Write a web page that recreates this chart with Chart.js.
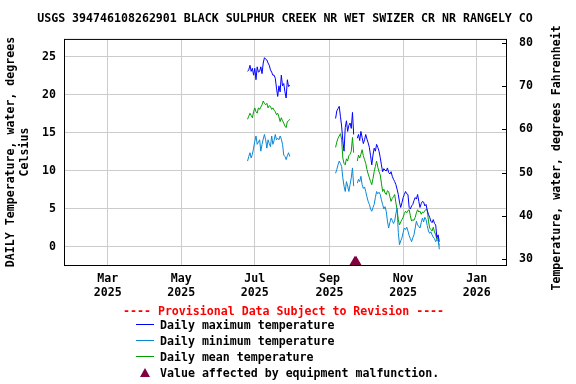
<!DOCTYPE html>
<html>
<head>
<meta charset="utf-8">
<title>USGS 394746108262901 water temperature</title>
<script src="https://cdn.jsdelivr.net/npm/chart.js@4.4.1/dist/chart.umd.min.js"></script>
<style>
  body { margin: 0; background: #fff; }
  #wrap { position: relative; width: 576px; height: 384px; overflow: hidden; }
  #chart { position: absolute; left: 0; top: 0; }
  .legend-text {
    position: absolute;
    font: bold 11.6px "DejaVu Sans Mono", monospace;
    line-height: 14px;
    white-space: pre;
    color: #000;
  }
  .legend-line { position: absolute; width: 18px; height: 1px; }
  .legend-tri {
    position: absolute; width: 0; height: 0;
    border-left: 5px solid transparent;
    border-right: 5px solid transparent;
    border-bottom: 9px solid #800040;
  }
</style>
</head>
<body>
<div id="wrap">
  <canvas id="chart" width="576" height="384"></canvas>
  <div class="legend-text" style="left:123px; top:304px; color:#ff0000;">---- Provisional Data Subject to Revision ----</div>
  <div id="legend"></div>
</div>
<script>
// === Data ===
const seg1Start = "2025-06-25";
const seg2Start = "2025-09-06";

// Jun 25 - Jul 30, 2025
const max1 = [23.1, 23.3, 23.9, 23.1, 23.5, 22.6, 23.5, 22.0, 23.7, 23.0, 23.1, 23.7,
  22.8, 24.2, 24.9, 24.7, 24.6, 24.2, 23.9, 23.3, 23.0, 22.6, 22.6, 22.2,
  20.9, 19.8, 21.2, 20.4, 22.6, 21.2, 21.5, 20.4, 19.6, 22.0, 21.1, 21.3];
const min1 = [11.3, 11.9, 12.4, 11.7, 12.2, 13.0, 13.9, 14.6, 13.5, 13.8, 14.1, 12.6,
  13.5, 14.2, 14.8, 14.1, 13.0, 14.1, 13.6, 13.2, 14.6, 13.5, 14.0, 14.8,
  14.1, 14.3, 14.1, 14.6, 14.2, 13.5, 12.1, 11.9, 11.5, 12.0, 12.4, 11.9];
const mean1 = [16.8, 17.2, 17.6, 17.3, 17.0, 17.8, 18.3, 17.8, 17.6, 18.3, 18.1, 18.4,
  18.7, 19.2, 18.9, 18.7, 18.9, 18.3, 18.6, 18.5, 18.1, 18.3, 18.0, 17.8,
  17.4, 17.6, 17.1, 16.5, 17.0, 16.6, 16.3, 15.9, 15.7, 16.5, 16.6, 16.8];

// Sep 6 - Dec 1, 2025 (null = no value, Sep 22-23)
const max2 = [16.9, 17.9, 18.2, 18.5, 17.2, 15.9, 14.0, 12.6, 15.7, 16.6, 15.2, 16.0,
  16.3, 15.6, 17.7, 14.8, null, null, 14.3, 14.8, 14.0, 15.2, 14.4, 13.6,
  14.1, 14.8, 14.2, 13.7, 13.1, 12.0, 10.8, 12.1, 13.0, 12.6, 13.5, 13.1,
  12.6, 11.8, 10.8, 9.9, 10.3, 10.1, 10.0, 10.4, 9.8, 9.6, 9.9, 9.3,
  8.9, 8.6, 8.2, 7.6, 6.9, 5.9, 5.2, 5.8, 6.5, 6.9, 7.3, 7.0,
  6.9, 5.2, 5.0, 5.4, 5.6, 6.1, 6.5, 6.3, 6.9, 6.0, 5.2, 5.7,
  6.0, 5.9, 5.4, 5.6, 4.8, 4.3, 3.9, 3.4, 3.2, 3.6, 3.1, 2.9,
  1.2, 1.6, 0.7];
const min2 = [9.7, 10.2, 10.8, 11.3, 11.0, 10.6, 9.1, 8.0, 7.3, 8.6, 8.0, 7.3,
  8.2, 9.1, 10.4, 8.0, null, null, 8.4, 8.9, 8.6, 9.3, 8.2, 7.7,
  7.9, 7.3, 6.6, 6.0, 5.6, 5.0, 4.7, 5.2, 5.6, 6.5, 7.3, 7.0,
  7.2, 6.9, 6.2, 5.6, 5.0, 5.3, 4.7, 3.4, 2.5, 3.2, 3.8, 3.5,
  3.1, 3.4, 4.4, 5.1, 1.9, 0.3, 0.8, 1.2, 1.9, 2.5, 2.3, 2.6,
  2.1, 1.5, 1.1, 0.7, 1.2, 1.6, 2.5, 3.4, 2.9, 2.7, 2.5, 3.2,
  3.8, 3.3, 3.9, 3.6, 2.8, 2.1, 1.8, 2.0, 1.6, 1.3, 1.1, 0.7,
  1.0, 1.2, -0.3];
const mean2 = [13.1, 13.8, 14.3, 14.6, 14.9, 14.2, 11.7, 11.0, 10.8, 11.6, 11.3, 12.0,
  12.2, 12.6, 14.4, 12.4, null, null, 11.3, 12.1, 11.7, 12.2, 12.8, 12.0,
  11.5, 11.0, 10.2, 9.6, 9.1, 8.6, 8.2, 9.0, 9.9, 10.6, 11.3, 10.5,
  9.9, 9.5, 8.4, 7.3, 7.6, 7.1, 6.9, 7.4, 7.3, 6.6, 6.0, 6.4,
  6.6, 6.9, 5.8, 4.9, 3.6, 2.9, 3.3, 3.6, 3.9, 4.4, 4.7, 4.5,
  4.8, 4.9, 4.1, 3.4, 3.6, 3.5, 3.9, 4.5, 4.9, 4.6, 4.7, 4.3,
  4.6, 4.5, 4.8, 4.9, 4.9, 3.4, 2.5, 2.3, 2.1, 2.6, 2.0, 1.6,
  1.0, 0.8, 0.2];

const malfunctionDays = ["2025-09-22", "2025-09-23"];
const malfunctionLevel = -2.0;

const xTickDates = ["2025-03-01", "2025-05-01", "2025-07-01", "2025-09-01", "2025-11-01", "2026-01-01"];
const xTickLabels = [["Mar", "2025"], ["May", "2025"], ["Jul", "2025"], ["Sep", "2025"], ["Nov", "2025"], ["Jan", "2026"]];
const yTicksC = [0, 5, 10, 15, 20, 25];
const yTicksF = [30, 40, 50, 60, 70, 80];

// === Styles ===
const FONT = "'DejaVu Sans Mono', monospace";
const FONT_SIZE = 11.6;
const MAX_COLOR = "#0000ff";
const MIN_COLOR = "#0a88d6";
const MEAN_COLOR = "#00a000";
const TRI_COLOR = "#800040";
const GRID = "#cccccc";
const TITLE = "USGS 394746108262901 BLACK SULPHUR CREEK NR WET SWIZER CR NR RANGELY CO";

// === Helpers ===
const DAY0 = Date.parse("2025-01-01T00:00:00Z");
const dayOf = (s) => (Date.parse(s + "T00:00:00Z") - DAY0) / 86400000;

function series(vals1, vals2) {
  const a = vals1.map((v, i) => ({ x: dayOf(seg1Start) + i, y: v }));
  const b = vals2.map((v, i) => ({ x: dayOf(seg2Start) + i, y: v }));
  return a.concat([{ x: dayOf(seg1Start) + vals1.length, y: null }], b);
}

const lineSet = (label, data, color) => ({
  label, data, borderColor: color, backgroundColor: color,
  borderWidth: 1, pointRadius: 0, tension: 0, spanGaps: false,
});

// === Frame, inner ticks, right axis title ===
const framePlugin = {
  id: "frame",
  afterDraw(chart) {
    const { ctx, chartArea: a, scales } = chart;
    ctx.save();
    ctx.strokeStyle = "#000";
    ctx.lineWidth = 1;
    ctx.strokeRect(a.left + 0.5, a.top + 0.5, a.right - a.left, a.bottom - a.top);

    ctx.beginPath();
    scales.y2.ticks.forEach((t) => {
      const y = Math.round(scales.y2.getPixelForValue(t.value)) + 0.5;
      ctx.moveTo(a.right - 4, y);
      ctx.lineTo(a.right + 1, y);
    });
    ctx.stroke();

    ctx.fillStyle = "#000";
    ctx.font = "bold " + FONT_SIZE + "px " + FONT;
    ctx.textAlign = "center";
    ctx.textBaseline = "middle";
    ctx.translate(557, (a.top + a.bottom) / 2 + 6);
    ctx.rotate(-Math.PI / 2);
    ctx.fillText("Temperature, water, degrees Fahrenheit", 0, 0);
    ctx.restore();
  },
};

// === Chart ===
const tickFont = { family: FONT, size: FONT_SIZE, weight: "bold", lineHeight: "14px" };

new Chart(document.getElementById("chart"), {
  type: "line",
  data: {
    datasets: [
      lineSet("Daily maximum temperature", series(max1, max2), MAX_COLOR),
      lineSet("Daily minimum temperature", series(min1, min2), MIN_COLOR),
      lineSet("Daily mean temperature", series(mean1, mean2), MEAN_COLOR),
      {
        label: "Value affected by equipment malfunction.",
        data: malfunctionDays.map((d) => ({ x: dayOf(d), y: malfunctionLevel })),
        showLine: false,
        pointStyle: "triangle",
        pointRadius: 6.5,
        pointBorderWidth: 0,
        backgroundColor: TRI_COLOR,
        borderColor: TRI_COLOR,
      },
    ],
  },
  options: {
    responsive: false,
    animation: false,
    devicePixelRatio: 1,
    layout: { padding: { left: 0, right: 6, top: 0, bottom: 84 } },
    plugins: {
      legend: { display: false },
      tooltip: { enabled: false },
      title: {
        display: true,
        text: TITLE,
        color: "#000",
        font: { family: FONT, size: FONT_SIZE, weight: "bold", lineHeight: 1.2 },
        padding: { top: 12, bottom: 13 },
      },
    },
    scales: {
      x: {
        type: "linear",
        min: 22.8,
        max: 389.3,
        afterBuildTicks: (s) => { s.ticks = xTickDates.map((d) => ({ value: dayOf(d) })); },
        afterFit: (s) => { s.height = 35; },
        grid: { color: GRID, drawTicks: false },
        border: { display: false },
        ticks: {
          color: "#000", font: tickFont, padding: 7,
          maxRotation: 0, autoSkip: false,
          callback: (v, i) => xTickLabels[i],
        },
      },
      y: {
        position: "left",
        min: -2.37,
        max: 27.37,
        afterBuildTicks: (s) => { s.ticks = yTicksC.map((v) => ({ value: v })); },
        afterFit: (s) => { s.width = 64; },
        grid: { color: GRID, drawTicks: false },
        border: { display: false },
        ticks: { color: "#000", font: tickFont, padding: 8 },
        title: {
          display: true,
          text: ["DAILY Temperature, water, degrees", "Celsius"],
          color: "#000",
          font: { family: FONT, size: FONT_SIZE, weight: "bold", lineHeight: "14px" },
          padding: { top: 4, bottom: 0 },
        },
      },
      y2: {
        position: "right",
        min: 28.7,
        max: 80.9,
        afterBuildTicks: (s) => { s.ticks = yTicksF.map((v) => ({ value: v })); },
        afterFit: (s) => { s.width = 64; },
        grid: { drawOnChartArea: false, drawTicks: false },
        border: { display: false },
        ticks: { color: "#000", font: tickFont, padding: 13 },
      },
    },
  },
  plugins: [framePlugin],
});

// === Legend below the plot ===
const legendItems = [
  { text: "Daily maximum temperature", color: MAX_COLOR },
  { text: "Daily minimum temperature", color: MIN_COLOR },
  { text: "Daily mean temperature", color: MEAN_COLOR },
  { text: "Value affected by equipment malfunction.", marker: true },
];
const legend = document.getElementById("legend");
legendItems.forEach((item, i) => {
  const top = 318 + i * 16;
  if (item.marker) {
    const tri = document.createElement("div");
    tri.className = "legend-tri";
    tri.style.left = "140px";
    tri.style.top = top + 2 + "px";
    legend.appendChild(tri);
  } else {
    const ln = document.createElement("div");
    ln.className = "legend-line";
    ln.style.left = "136px";
    ln.style.top = top + 6 + "px";
    ln.style.background = item.color;
    legend.appendChild(ln);
  }
  const txt = document.createElement("div");
  txt.className = "legend-text";
  txt.style.left = "160px";
  txt.style.top = top + "px";
  txt.textContent = item.text;
  legend.appendChild(txt);
});
</script>
</body>
</html>
